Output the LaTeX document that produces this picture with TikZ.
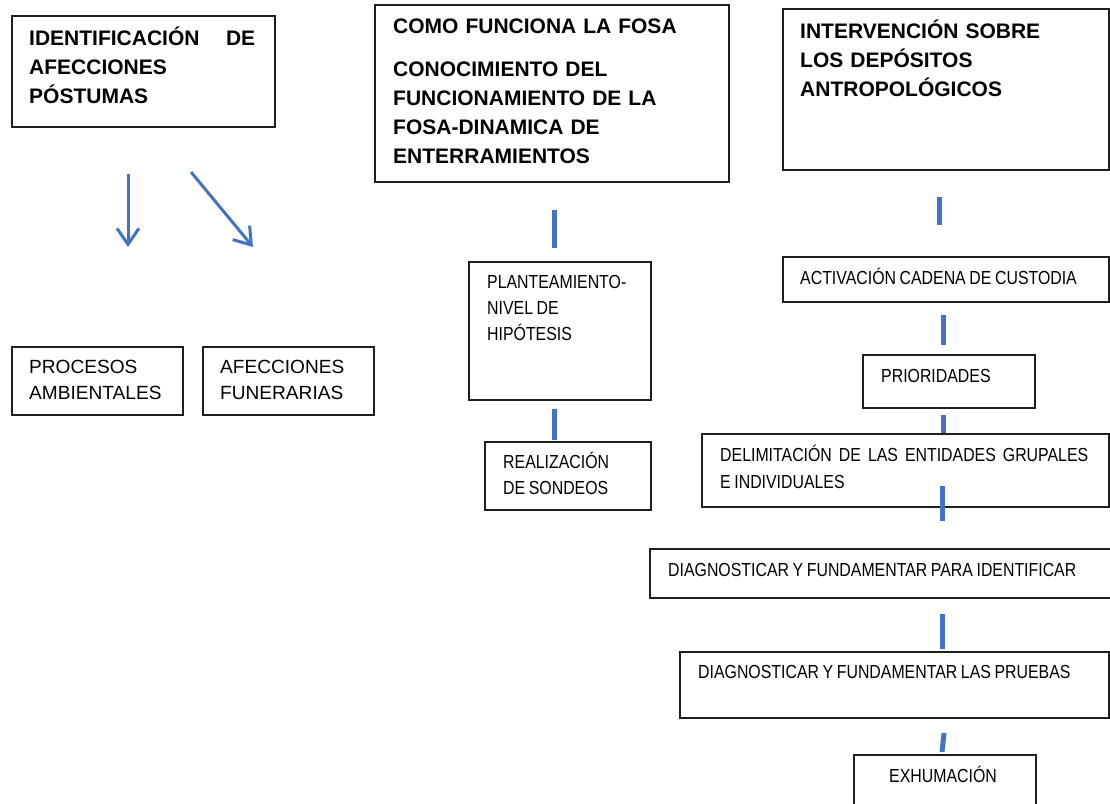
\documentclass[tikz,border=0pt]{standalone}
\usepackage{fontspec}
\setmainfont{Liberation Sans}
\newfontfamily\narrowfont{Liberation Sans}[FakeStretch=0.84]
\newcommand\narrowsp{\narrowfont\fontsize{18.9}{26}\selectfont}
\newcommand\narrowspb{\narrowfont\fontsize{18.9}{27}\selectfont}
\usetikzlibrary{arrows.meta}
\definecolor{bluebar}{RGB}{68,114,196}
\definecolor{boxline}{RGB}{30,30,30}
\begin{document}
\begin{tikzpicture}[x=1pt,y=-1pt,
  box/.style={draw=boxline, line width=1.6pt, inner sep=0pt, anchor=north west},
  btxt/.style={anchor=base west, inner sep=0pt, align=left, font=\fontsize{21}{29}\selectfont\bfseries},
  rtxt/.style={anchor=base west, inner sep=0pt, align=left, font=\fontsize{19.1}{26}\selectfont},
  ntxt/.style={anchor=base west, inner sep=0pt, align=left, font=\narrowsp,
    execute at begin node={\spaceskip=3.6pt plus 3pt minus 1pt\relax}},
  bar/.style={draw=bluebar, line width=5pt},
  arr/.style={draw=bluebar, line width=3pt, -{Straight Barb[length=16pt,width=22pt]}}]
\useasboundingbox (0,0) rectangle (1110,803);
% left column
\node[box, minimum width=263pt, minimum height=111pt] (b1) at (11,15) {};
\node[btxt, text width=226pt] (t1) at (29,45) {IDENTIFICACIÓN\hfill DE\\AFECCIONES\\PÓSTUMAS};
\node[box, minimum width=171pt, minimum height=68pt] (b2) at (11,346) {};
\node[rtxt, text width=160pt] (t2) at (29,373) {PROCESOS\\AMBIENTALES};
\node[box, minimum width=171pt, minimum height=68pt] (b3) at (202,346) {};
\node[rtxt, text width=160pt] (t3) at (220,373) {AFECCIONES\\FUNERARIAS};
\coordinate (a1s) at (128,174); \coordinate (a1e) at (128,247);
\coordinate (a2s) at (191,172); \coordinate (a2e) at (253,247);
\draw[arr] (a1s) -- (a1e);
\draw[arr] (a2s) -- (a2e);
% middle column
\node[box, minimum width=354pt, minimum height=177pt] (b4) at (374,4) {};
\node[btxt, text width=330pt] (t4) at (393,33) {COMO FUNCIONA LA FOSA\\[14pt]CONOCIMIENTO DEL\\FUNCIONAMIENTO DE LA\\FOSA-DINAMICA DE\\ENTERRAMIENTOS};
\node[box, minimum width=182pt, minimum height=138pt] (b5) at (468,261) {};
\node[ntxt, text width=170pt] (t5) at (487,288) {PLANTEAMIENTO-\\NIVEL DE\\HIPÓTESIS};
\node[box, minimum width=166pt, minimum height=68pt] (b6) at (484,441) {};
\node[ntxt, text width=150pt] (t6) at (503,468) {REALIZACIÓN\\DE SONDEOS};
% right column
\node[box, minimum width=326pt, minimum height=161pt] (b7) at (782,8) {};
\node[btxt, text width=310pt] (t7) at (800,38) {INTERVENCIÓN SOBRE\\LOS DEPÓSITOS\\ANTROPOLÓGICOS};
\node[box, minimum width=326pt, minimum height=45pt] (b8) at (782,256) {};
\node[ntxt, text width=310pt] (t8) at (800,284) {ACTIVACIÓN CADENA DE CUSTODIA};
\node[box, minimum width=172pt, minimum height=53pt] (b9) at (862,354) {};
\node[ntxt, text width=150pt] (t9) at (881,382) {PRIORIDADES};
\node[box, minimum width=407pt, minimum height=73pt] (b10) at (701,433) {};
\node[ntxt, text width=380pt, font=\narrowspb] (t10) at (720,461) {\makebox[368pt][s]{DELIMITACIÓN DE LAS ENTIDADES GRUPALES}\\E INDIVIDUALES};
\node[box, minimum width=470pt, minimum height=49pt] (b11) at (649,548) {};
\node[ntxt, text width=440pt] (t11) at (668,576) {DIAGNOSTICAR Y FUNDAMENTAR PARA IDENTIFICAR};
\node[box, minimum width=429pt, minimum height=66pt] (b12) at (679,651) {};
\node[ntxt, text width=410pt] (t12) at (698,678) {DIAGNOSTICAR Y FUNDAMENTAR LAS PRUEBAS};
\node[box, minimum width=182pt, minimum height=60pt] (b13) at (853,754) {};
\node[ntxt, text width=150pt] (t13) at (889,782) {EXHUMACIÓN};
% blue bars
\coordinate (c1a) at (554,210); \coordinate (c1b) at (554,248);
\coordinate (c2a) at (554,409); \coordinate (c2b) at (554,440);
\coordinate (c3a) at (939,197); \coordinate (c3b) at (939,225);
\coordinate (c4a) at (943,315); \coordinate (c4b) at (943,345);
\coordinate (c5a) at (943,415); \coordinate (c5b) at (943,433);
\coordinate (c6a) at (942,486); \coordinate (c6b) at (942,521);
\coordinate (c7a) at (942,614); \coordinate (c7b) at (942,649);
\coordinate (c8a) at (944,733); \coordinate (c8b) at (942,752);
\foreach \i in {1,...,8} {\draw[bar] (c\i a) -- (c\i b);}
\end{tikzpicture}
\end{document}
